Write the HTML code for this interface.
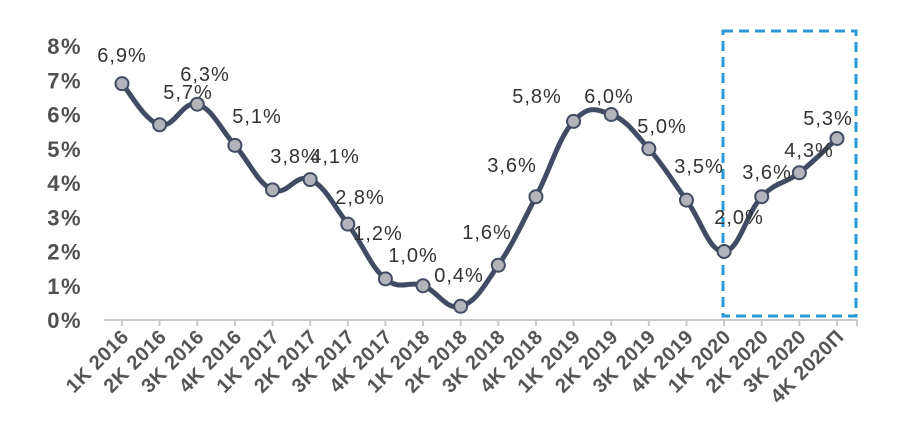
<!DOCTYPE html>
<html><head><meta charset="utf-8"><style>
html,body{margin:0;padding:0;background:#fff;width:924px;height:448px;overflow:hidden}
svg{display:block}
.yl{font-family:"Liberation Sans",sans-serif;font-weight:bold;font-size:22px;letter-spacing:1.5px;fill:#505050}
.xl{font-family:"Liberation Sans",sans-serif;font-weight:bold;font-size:20px;letter-spacing:0.5px;fill:#555}
.dl{font-family:"Liberation Sans",sans-serif;font-size:20px;letter-spacing:1px;fill:#333}
</style></head><body>
<svg id="s" width="924" height="448" xmlns="http://www.w3.org/2000/svg">
<rect x="723" y="31" width="133" height="285" fill="none" stroke="#2a9ad6" stroke-width="3" stroke-dasharray="10,6"/>
<line x1="104" y1="320" x2="857" y2="320" stroke="#c8c8c8" stroke-width="2"/>
<g id="g"></g>
</svg>
<script>
var v=[6.9,5.7,6.3,5.1,3.8,4.1,2.8,1.2,1.0,0.4,1.6,3.6,5.8,6.0,5.0,3.5,2.0,3.6,4.3,5.3];
var names=["1K 2016","2K 2016","3K 2016","4K 2016","1K 2017","2K 2017","3K 2017","4K 2017","1K 2018","2K 2018","3K 2018","4K 2018","1K 2019","2K 2019","3K 2019","4K 2019","1K 2020","2K 2020","3K 2020","4K 2020П"];
var lab=[[122,62],[188,99],[205,81],[257,123],[295,163],[335,163],[360,204],[378,240],[413,262],[459,282],[487,239],[512,172],[537,103],[609,103],[662,133],[699,173],[739,224],[767,179],[809,157],[828,125]];
var x0=122,n=v.length,dx=(837-122)/(n-1);
function X(i){return x0+i*dx}function Y(a){return 320-a*34.25}
var g=document.getElementById('g'),h='';
for(var k=0;k<=8;k++)h+='<text class="yl" x="82" y="'+(Y(k)+8)+'" text-anchor="end">'+k+'%</text>';
var p=[];for(var i=0;i<n;i++)p.push([X(i),Y(v[i])]);
var d='M'+p[0][0]+','+p[0][1];
for(var i=0;i<n-1;i++){var a=p[Math.max(i-1,0)],b=p[i],c=p[i+1],e=p[Math.min(i+2,n-1)],t=0.2;
d+=' C'+(b[0]+(c[0]-a[0])*t)+','+(b[1]+(c[1]-a[1])*t)+' '+(c[0]-(e[0]-b[0])*t)+','+(c[1]-(e[1]-b[1])*t)+' '+c[0]+','+c[1];}
for(var i=0;i<=n;i++){var xx=i<n?X(i):857;h+='<line x1="'+xx+'" y1="320" x2="'+xx+'" y2="326" stroke="#c8c8c8" stroke-width="2"/>';}
h+='<path d="'+d+'" fill="none" stroke="#414b63" stroke-width="5"/>';
for(var i=0;i<n;i++){h+='<circle cx="'+p[i][0]+'" cy="'+p[i][1]+'" r="6.5" fill="#b3b3bb" stroke="#414b63" stroke-width="2"/>';
h+='<text class="dl" x="'+lab[i][0]+'" y="'+lab[i][1]+'" text-anchor="middle">'+v[i].toFixed(1).replace('.',',')+'%</text>';
h+='<text class="xl" transform="translate('+(X(i)+8)+',338) rotate(-45)" text-anchor="end">'+names[i]+'</text>';}
g.innerHTML=h;
</script>
</body></html>
